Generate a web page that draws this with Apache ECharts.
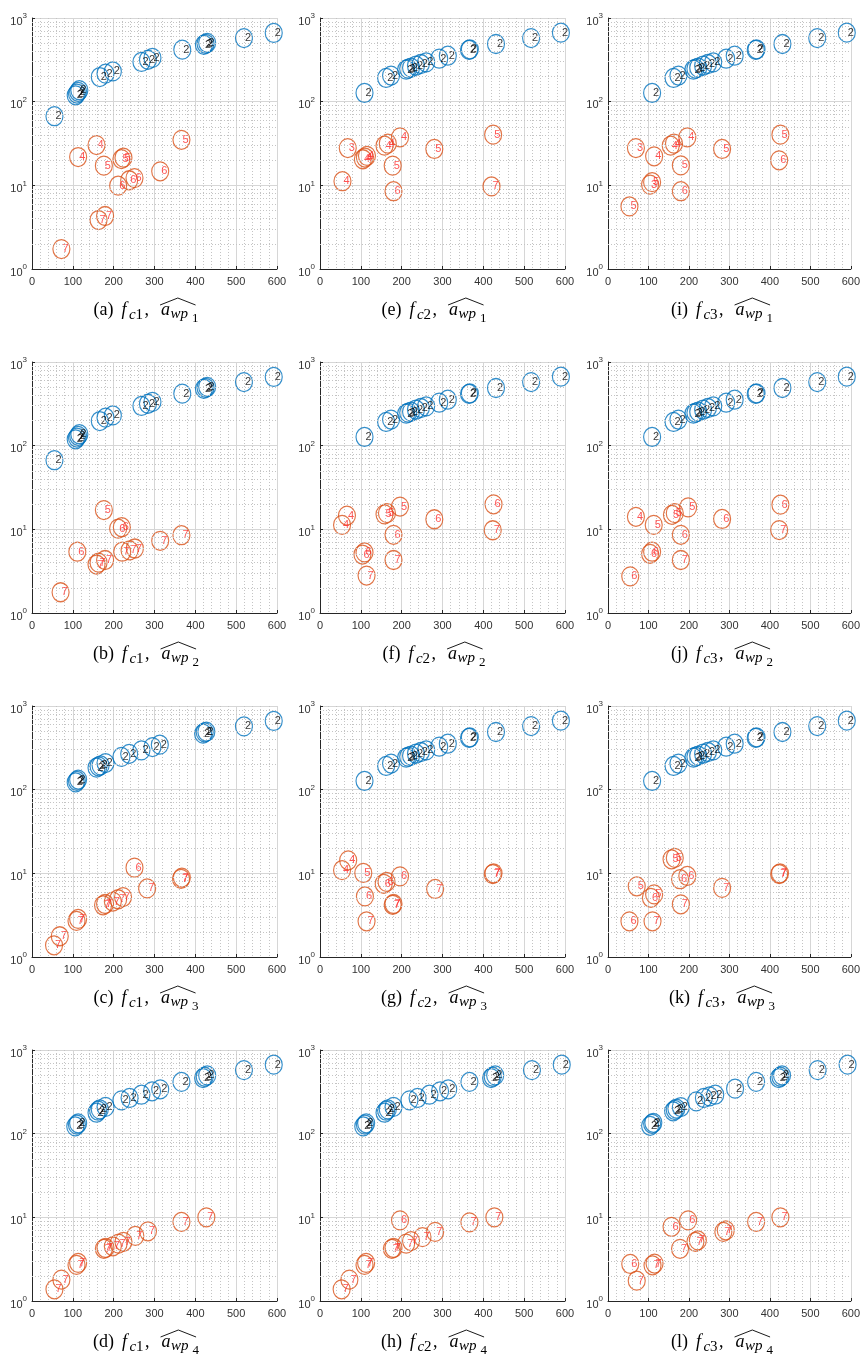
<!DOCTYPE html>
<html>
<head>
<meta charset="utf-8">
<script src="https://cdn.jsdelivr.net/npm/echarts@6/dist/echarts.min.js"></script>
<style>
  html, body { margin: 0; padding: 0; background: #fff; }
  #chart { width: 863px; height: 1360px; }
</style>
</head>
<body>
<div id="chart"></div>
<script>
// ---- shared axis ticks ----
const xTicks = [0, 100, 200, 300, 400, 500, 600];
const yMinorLines = [2, 3, 4, 5, 6, 7, 8, 9, 20, 30, 40, 50, 60, 70, 80, 90, 200, 300, 400, 500, 600, 700, 800, 900];

// ---- blue markers (label "2") ----
const blueX_ab = [55, 107, 110, 113, 116, 166, 180, 198, 268, 284, 295, 368, 421, 425, 429, 519, 592];
const blueY_ab = [67, 119, 125, 131, 137, 197, 216, 230, 298, 317, 333, 418, 478, 492, 505, 576, 662];

const blueX_c = [107, 110, 113, 158, 163, 168, 180, 219, 238, 268, 295, 313, 419, 423, 427, 519, 592];
const blueY_c = [122, 127, 132, 183, 190, 195, 208, 246, 268, 295, 323, 345, 467, 485, 493, 571, 662];

const blueX_dh = [106, 110, 113, 158, 162, 166, 180, 219, 239, 268, 294, 314, 366, 419, 423, 429, 519, 592];
const blueY_dh = [122, 128, 133, 178, 188, 195, 209, 250, 267, 292, 321, 339, 415, 462, 479, 497, 575, 668];

const blueX_efgijk = [109, 162, 174, 211, 216, 223, 235, 247, 260, 292, 313, 365, 367, 431, 517, 590];
const blueY_efgijk = [127, 192, 205, 241, 248, 255, 269, 282, 295, 326, 354, 415, 422, 489, 576, 668];

const blueX_l = [104, 109, 112, 161, 165, 169, 180, 218, 237, 251, 265, 314, 366, 422, 426, 430, 518, 592];
const blueY_l = [124, 131, 135, 185, 192, 199, 208, 243, 267, 279, 292, 345, 415, 462, 479, 497, 575, 668];

// ---- red markers (numeric tag per point) ----
const redX_a = [72, 113, 158, 163, 176, 179, 211, 219, 224, 238, 251, 314, 366];
const redY_a = [1.73, 21.8, 30.3, 3.85, 17.2, 4.3, 9.9, 20.6, 21.4, 11.5, 12.2, 14.7, 35];
const redTag_a = ['7', '4', '4', '7', '5', '7', '6', '5', '5', '6', '6', '6', '5'];

const redX_b = [70, 111, 158, 163, 176, 179, 211, 220, 221, 239, 252, 314, 366];
const redY_b = [1.77, 5.4, 3.8, 4.0, 17.0, 4.3, 10.2, 10.6, 5.4, 5.6, 5.9, 7.3, 8.5];
const redTag_b = ['7', '6', '7', '7', '5', '7', '6', '6', '7', '7', '7', '7', '7'];

const redX_c = [54, 68, 109, 113, 174, 179, 198, 211, 223, 251, 282, 365, 367];
const redY_c = [1.38, 1.77, 2.7, 2.85, 4.15, 4.3, 4.6, 4.9, 5.2, 11.7, 6.6, 8.6, 8.9];
const redTag_c = ['7', '7', '7', '7', '7', '7', '7', '7', '7', '6', '7', '7', '7'];

const redX_d = [55, 72, 109, 113, 176, 180, 198, 212, 224, 253, 284, 366, 427];
const redY_d = [1.38, 1.8, 2.7, 2.85, 4.2, 4.3, 4.5, 4.85, 5.1, 6.0, 6.8, 8.8, 10.0];
const redTag_d = ['7', '7', '7', '7', '7', '7', '7', '7', '7', '7', '7', '7', '7'];

const redX_e = [55, 68, 105, 110, 115, 158, 166, 178, 180, 196, 280, 420, 424];
const redY_e = [11.2, 27.9, 20.5, 21.5, 22.5, 29.8, 31.5, 17.2, 8.5, 37.5, 27.2, 9.7, 40.3];
const redTag_e = ['4', '3', '4', '4', '4', '4', '4', '5', '6', '4', '5', '7', '5'];

const redX_f = [54, 66, 104, 109, 114, 158, 164, 180, 180, 196, 280, 423, 425];
const redY_f = [11.3, 14.6, 5.0, 5.3, 2.8, 15.1, 15.6, 4.3, 8.6, 18.7, 13.2, 9.75, 19.9];
const redTag_f = ['4', '4', '6', '6', '7', '5', '5', '7', '6', '5', '6', '7', '6'];

const redX_g = [54, 69, 106, 110, 114, 156, 163, 178, 180, 196, 282, 423, 425];
const redY_g = [10.9, 14.3, 10.1, 5.3, 2.67, 7.5, 7.9, 4.2, 4.3, 9.2, 6.5, 9.8, 10.0];
const redTag_g = ['4', '4', '5', '6', '7', '6', '6', '7', '7', '6', '7', '7', '7'];

const redX_h = [53, 72, 109, 113, 176, 180, 196, 211, 223, 251, 282, 366, 427];
const redY_h = [1.38, 1.8, 2.7, 2.85, 4.2, 4.3, 9.2, 4.85, 5.2, 5.8, 6.7, 8.7, 10.0];
const redTag_h = ['7', '7', '7', '7', '7', '7', '6', '7', '7', '7', '7', '7', '7'];

const redX_i = [53, 69, 104, 109, 114, 155, 163, 180, 180, 196, 282, 423, 426];
const redY_i = [5.6, 27.9, 10.2, 10.9, 22.2, 29.8, 31.5, 17.3, 8.5, 37.5, 27.2, 19.9, 40.3];
const redTag_i = ['5', '3', '3', '5', '4', '4', '4', '5', '6', '4', '5', '6', '5'];

const redX_j = [55, 69, 104, 109, 113, 158, 165, 180, 180, 198, 282, 423, 426];
const redY_j = [2.74, 14.1, 5.1, 5.4, 11.3, 14.9, 15.6, 4.3, 8.6, 18.3, 13.3, 9.8, 19.7];
const redTag_j = ['6', '4', '6', '6', '5', '5', '5', '7', '6', '5', '6', '7', '6'];

const redX_k = [53, 71, 106, 110, 114, 157, 165, 178, 180, 196, 282, 423, 425];
const redY_k = [2.67, 7.0, 5.1, 2.67, 5.6, 14.7, 15.3, 8.5, 4.26, 9.3, 6.7, 9.8, 10.0];
const redTag_k = ['6', '5', '6', '7', '5', '5', '5', '6', '7', '6', '7', '7', '7'];

const redX_l = [55, 71, 110, 115, 157, 178, 198, 216, 222, 285, 291, 366, 426];
const redY_l = [2.77, 1.75, 2.67, 2.8, 7.7, 4.2, 9.2, 5.1, 5.3, 6.7, 7.0, 8.8, 10.0];
const redTag_l = ['6', '7', '7', '7', '6', '7', '6', '7', '7', '7', '7', '7', '7'];

// ---- panel table: letter, column (f_c index), row (a_wp index) ----
const panels = [
  { letter: 'a', col: 0, row: 0, bx: blueX_ab, by: blueY_ab, rx: redX_a, ry: redY_a, rt: redTag_a },
  { letter: 'b', col: 0, row: 1, bx: blueX_ab, by: blueY_ab, rx: redX_b, ry: redY_b, rt: redTag_b },
  { letter: 'c', col: 0, row: 2, bx: blueX_c, by: blueY_c, rx: redX_c, ry: redY_c, rt: redTag_c },
  { letter: 'd', col: 0, row: 3, bx: blueX_dh, by: blueY_dh, rx: redX_d, ry: redY_d, rt: redTag_d },
  { letter: 'e', col: 1, row: 0, bx: blueX_efgijk, by: blueY_efgijk, rx: redX_e, ry: redY_e, rt: redTag_e },
  { letter: 'f', col: 1, row: 1, bx: blueX_efgijk, by: blueY_efgijk, rx: redX_f, ry: redY_f, rt: redTag_f },
  { letter: 'g', col: 1, row: 2, bx: blueX_efgijk, by: blueY_efgijk, rx: redX_g, ry: redY_g, rt: redTag_g },
  { letter: 'h', col: 1, row: 3, bx: blueX_dh, by: blueY_dh, rx: redX_h, ry: redY_h, rt: redTag_h },
  { letter: 'i', col: 2, row: 0, bx: blueX_efgijk, by: blueY_efgijk, rx: redX_i, ry: redY_i, rt: redTag_i },
  { letter: 'j', col: 2, row: 1, bx: blueX_efgijk, by: blueY_efgijk, rx: redX_j, ry: redY_j, rt: redTag_j },
  { letter: 'k', col: 2, row: 2, bx: blueX_efgijk, by: blueY_efgijk, rx: redX_k, ry: redY_k, rt: redTag_k },
  { letter: 'l', col: 2, row: 3, bx: blueX_l, by: blueY_l, rx: redX_l, ry: redY_l, rt: redTag_l }
];

// ---- layout constants ----
const GRID_LEFT0 = 32, GRID_TOP0 = 18, COL_STEP = 288, ROW_STEP = 344;
const GRID_W = 245, GRID_H = 251;
const BLUE = '#0072BD', ORANGE = '#D95319', RED_TEXT = '#ff2a2a';
const AXIS_COLOR = '#262626', GRID_COLOR = '#d6d6d6', MINOR_COLOR = '#c4c4c4';
const SANS = 'Liberation Sans';
const SERIF = 'Liberation Serif';
const MARK_SIZE = [17, 19];

const measureCtx = document.createElement('canvas').getContext('2d');
function textWidth(str, font) { measureCtx.font = font; return measureCtx.measureText(str).width; }

const grids = [], xAxes = [], yAxes = [], series = [], graphics = [];

panels.forEach((p, i) => {
  const left = GRID_LEFT0 + COL_STEP * p.col;
  const top = GRID_TOP0 + ROW_STEP * p.row;
  grids.push({ left: left, top: top, width: GRID_W, height: GRID_H, containLabel: false });

  xAxes.push({
    type: 'value', gridIndex: i, min: xTicks[0], max: xTicks[xTicks.length - 1], interval: 100,
    axisLine: { show: true, onZero: false, lineStyle: { color: AXIS_COLOR, width: 1 } },
    axisTick: { show: true, inside: true, length: 3, lineStyle: { color: AXIS_COLOR } },
    minorTick: { show: false, splitNumber: 5 },
    axisLabel: { margin: 7, fontSize: 11, color: '#333', fontFamily: SANS },
    splitLine: { show: true, lineStyle: { color: GRID_COLOR, width: 1 } },
    minorSplitLine: { show: true, lineStyle: { color: MINOR_COLOR, width: 1, type: [1, 2] } }
  });

  yAxes.push({
    type: 'log', logBase: 10, gridIndex: i, min: 1, max: 1000,
    axisLine: { show: true, onZero: false, lineStyle: { color: AXIS_COLOR, width: 1 } },
    axisTick: { show: true, inside: true, length: 3, lineStyle: { color: AXIS_COLOR } },
    axisLabel: {
      margin: 5,
      formatter: v => '{b|10}{s|' + Math.round(Math.log10(v)) + '}',
      rich: {
        b: { fontSize: 11, color: '#333', fontFamily: SANS, verticalAlign: 'bottom', lineHeight: 18 },
        s: { fontSize: 8, color: '#333', fontFamily: SANS, verticalAlign: 'top', padding: [3, 0, 0, 0] }
      }
    },
    splitLine: { show: true, lineStyle: { color: GRID_COLOR, width: 1 } }
  });

  // dotted minor lines of the log axis
  series.push({
    type: 'line', xAxisIndex: i, yAxisIndex: i, data: [], silent: true, z: 1,
    markLine: {
      silent: true, symbol: ['none', 'none'], animation: false,
      label: { show: false },
      lineStyle: { color: MINOR_COLOR, width: 1, type: [1, 2] },
      emphasis: { disabled: true },
      data: yMinorLines.map(v => ({ yAxis: v }))
    }
  });

  series.push({
    type: 'scatter', xAxisIndex: i, yAxisIndex: i, silent: true, z: 3,
    data: p.bx.map((x, k) => [x, p.by[k]]),
    symbol: 'circle', symbolSize: MARK_SIZE,
    itemStyle: { color: 'rgba(0,0,0,0)', borderColor: BLUE, borderWidth: 1.2 },
    label: { show: true, position: 'inside', align: 'left', offset: [1, 0], formatter: '2', color: '#000', fontSize: 11, fontFamily: SANS },
    emphasis: { disabled: true }
  });

  series.push({
    type: 'scatter', xAxisIndex: i, yAxisIndex: i, silent: true, z: 4,
    data: p.rx.map((x, k) => ({ value: [x, p.ry[k]], tag: p.rt[k] })),
    symbol: 'circle', symbolSize: MARK_SIZE,
    itemStyle: { color: 'rgba(0,0,0,0)', borderColor: ORANGE, borderWidth: 1.2 },
    label: {
      show: true, position: 'inside', align: 'left', offset: [1, 0],
      formatter: prm => prm.data.tag, color: RED_TEXT, fontSize: 11, fontFamily: SANS
    },
    emphasis: { disabled: true }
  });

  // caption: (x) f_{cN}, widehat{a_{wp_M}}
  const base = 316 + ROW_STEP * p.row;
  const center = 146 + COL_STEP * p.col;
  const R = n => n + 'px "' + SERIF + '"';
  const I = n => 'italic ' + n + 'px "' + SERIF + '"';
  const parts = [
    { t: '(' + p.letter + ')', f: R(18), fs: 18, dy: 0, gap: 0 },
    { t: 'f', f: I(18), fs: 18, dy: 0, gap: 8 },
    { t: 'c', f: I(15), fs: 15, dy: 4, gap: 2.5 },
    { t: String(p.col + 1), f: R(15), fs: 15, dy: 4, gap: 0 },
    { t: ',', f: R(18), fs: 18, dy: 0, gap: 1.5 },
    { t: 'a', f: I(18), fs: 18, dy: 0, gap: 12, hatStart: true },
    { t: 'wp', f: I(15), fs: 15, dy: 3, gap: 0.5 },
    { t: String(p.row + 1), f: R(13), fs: 13, dy: 7, gap: 4 }
  ];
  let total = 0;
  parts.forEach(pt => { pt.w = textWidth(pt.t, pt.f); total += pt.gap + pt.w; });
  let cursor = center - total / 2;
  let hatX0 = 0;
  parts.forEach(pt => {
    cursor += pt.gap;
    if (pt.hatStart) hatX0 = cursor - 1;
    graphics.push({
      type: 'text', x: cursor, y: base + pt.dy - 0.34 * pt.fs, silent: true,
      style: { text: pt.t, font: pt.f, fill: '#000', textAlign: 'left', textVerticalAlign: 'middle' }
    });
    cursor += pt.w;
  });
  const hatX1 = cursor - 3;
  graphics.push({
    type: 'polyline', silent: true,
    shape: { points: [[hatX0, base - 11], [(hatX0 + hatX1) / 2, base - 18], [hatX1, base - 11]] },
    style: { stroke: '#000', lineWidth: 0.9, fill: null }
  });
});

const chart = echarts.init(document.getElementById('chart'), null, { renderer: 'canvas' });
chart.setOption({
  animation: false,
  backgroundColor: '#fff',
  grid: grids,
  xAxis: xAxes,
  yAxis: yAxes,
  series: series,
  graphic: graphics
});
</script>
</body>
</html>
